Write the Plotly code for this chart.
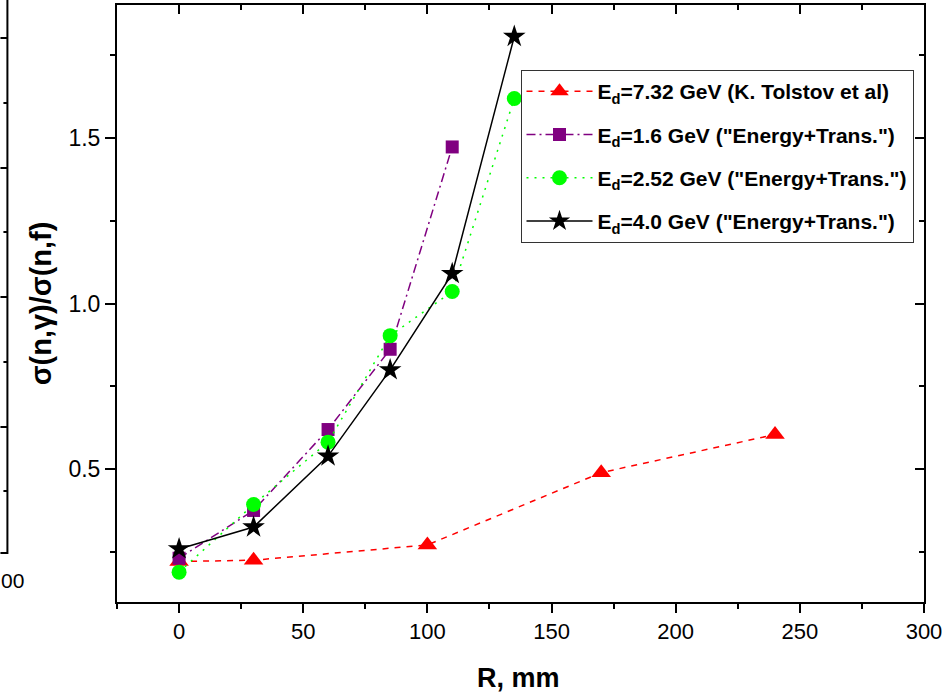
import plotly.graph_objects as go

# ---- data ----
r_tolstov = [0, 30, 100, 170, 240]
ratio_tolstov = [0.222, 0.226, 0.272, 0.490, 0.605]

r_16 = [0, 30, 60, 85, 110]
ratio_16 = [0.232, 0.376, 0.620, 0.862, 1.472]

r_252 = [0, 30, 60, 85, 110, 135]
ratio_252 = [0.190, 0.394, 0.582, 0.903, 1.036, 1.618]

r_40 = [0, 30, 60, 85, 110, 135]
ratio_40 = [0.260, 0.326, 0.540, 0.800, 1.090, 1.805]

names = [
    "<b>E<sub>d</sub>=7.32 GeV (K. Tolstov et al)</b>",
    "<b>E<sub>d</sub>=1.6 GeV (\"Energy+Trans.\")</b>",
    "<b>E<sub>d</sub>=2.52 GeV (\"Energy+Trans.\")</b>",
    "<b>E<sub>d</sub>=4.0 GeV (\"Energy+Trans.\")</b>",
]

x_range = [-25, 300]
y_range = [0.1, 1.9]
x_ticks = [0, 50, 100, 150, 200, 250, 300]
y_ticks = [0.5, 1.0, 1.5]
y_ticktext = ["0.5", "1.0", "1.5"]
y_minor = [0.25, 0.75, 1.25, 1.75]

FONT = "Liberation Sans, Arial, sans-serif"

# plot area in pixels
W, H = 947, 693
L, R, T, B = 117, 20, 5, 91
PW, PH = W - L - R, H - T - B

def px(xp):
    return (xp - L) / PW

def py(yp):
    return (H - B - yp) / PH

fig = go.Figure()
fig.add_trace(go.Scatter(x=r_tolstov, y=ratio_tolstov, name=names[0], legendgroup="a",
                         mode="lines+markers",
                         line=dict(color="#FF0000", width=1.5, dash="6px,6px"),
                         marker=dict(symbol="triangle-up", size=17, color="#FF0000")))
fig.add_trace(go.Scatter(x=r_16, y=ratio_16, name=names[1], legendgroup="b",
                         mode="lines+markers",
                         line=dict(color="#800080", width=1.5, dash="9px,4px,2px,4px"),
                         marker=dict(symbol="square", size=13, color="#800080")))
fig.add_trace(go.Scatter(x=r_252, y=ratio_252, name=names[2], legendgroup="c",
                         mode="lines+markers",
                         line=dict(color="#00FF00", width=1.5, dash="2px,6px"),
                         marker=dict(symbol="circle", size=15, color="#00FF00")))
fig.add_trace(go.Scatter(x=r_40, y=ratio_40, name=names[3], legendgroup="d",
                         mode="lines+markers",
                         line=dict(color="#000000", width=1.5),
                         marker=dict(symbol="star", size=17, color="#000000")))
# dummy trace to activate mirror axes
fig.add_trace(go.Scatter(x=[x_range[0]], y=[y_range[0]], xaxis="x2", yaxis="y2",
                         mode="markers", marker=dict(opacity=0), showlegend=False,
                         hoverinfo="skip"))

axis_common = dict(showgrid=False, zeroline=False, showline=True, linecolor="black",
                   linewidth=2, tickcolor="black", tickwidth=2)

fig.update_layout(
    width=W, height=H,
    margin=dict(l=L, r=R, t=T, b=B),
    paper_bgcolor="white", plot_bgcolor="white",
    font=dict(family=FONT, color="black"),
    xaxis=dict(range=x_range, tickmode="array", tickvals=x_ticks, ticks="outside",
               ticklen=9, tickfont=dict(size=22),
               minor=dict(ticks="outside", ticklen=5, dtick=25, tick0=0, tickcolor="black", tickwidth=2),
               **axis_common),
    yaxis=dict(range=y_range, tickmode="array", tickvals=y_ticks,
               ticktext=y_ticktext, ticks="outside", ticklen=10,
               tickfont=dict(size=23),
               minor=dict(ticks="outside", ticklen=5, tickmode="array",
                          tickvals=y_minor, tickcolor="black", tickwidth=2),
               **axis_common),
    xaxis2=dict(range=x_range, overlaying="x", side="top", anchor="y2", tickmode="array",
                tickvals=x_ticks, ticks="inside", ticklen=9, showticklabels=False,
                minor=dict(ticks="inside", ticklen=5, dtick=25, tick0=0, tickcolor="black", tickwidth=2),
                **axis_common),
    yaxis2=dict(range=y_range, overlaying="y", side="right", anchor="x2", tickmode="array",
                tickvals=y_ticks, ticks="inside", ticklen=9, showticklabels=False,
                minor=dict(ticks="inside", ticklen=5, tickmode="array",
                           tickvals=y_minor, tickcolor="black", tickwidth=2),
                **axis_common),
    showlegend=True,
    legend=dict(x=px(522), y=py(70), xanchor="left", yanchor="top",
                bgcolor="white", bordercolor="#333333", borderwidth=1,
                font=dict(size=21, family=FONT),
                itemwidth=66, tracegroupgap=13),
)

# axis titles
fig.add_annotation(text="<b>R, mm</b>", xref="paper", yref="paper",
                   x=px(520), y=py(678), xanchor="center", yanchor="middle",
                   showarrow=False, font=dict(size=27, family=FONT))
fig.add_annotation(text="<b>σ(n,γ)/σ(n,f)</b>", xref="paper", yref="paper",
                   x=px(41), y=py(303), xanchor="center", yanchor="middle",
                   showarrow=False, textangle=-90,
                   font=dict(size=29, family=FONT))

# remnant axis of a neighbouring panel at the left edge
fig.add_shape(type="line", xref="paper", yref="paper", x0=px(7), x1=px(7),
              y0=py(0), y1=py(554), line=dict(color="black", width=2))
for i, yp in enumerate([38, 103, 168, 232, 297, 362, 427, 491, 553]):
    x0 = 0 if i % 2 == 0 else 3
    fig.add_shape(type="line", xref="paper", yref="paper", x0=px(x0), x1=px(7),
                  y0=py(yp), y1=py(yp), line=dict(color="black", width=2))
fig.add_annotation(text="00", xref="paper", yref="paper", x=px(0), y=py(580),
                   xanchor="left", yanchor="middle", borderpad=0,
                   showarrow=False, font=dict(size=21, family=FONT))

fig.write_html("out.html")
